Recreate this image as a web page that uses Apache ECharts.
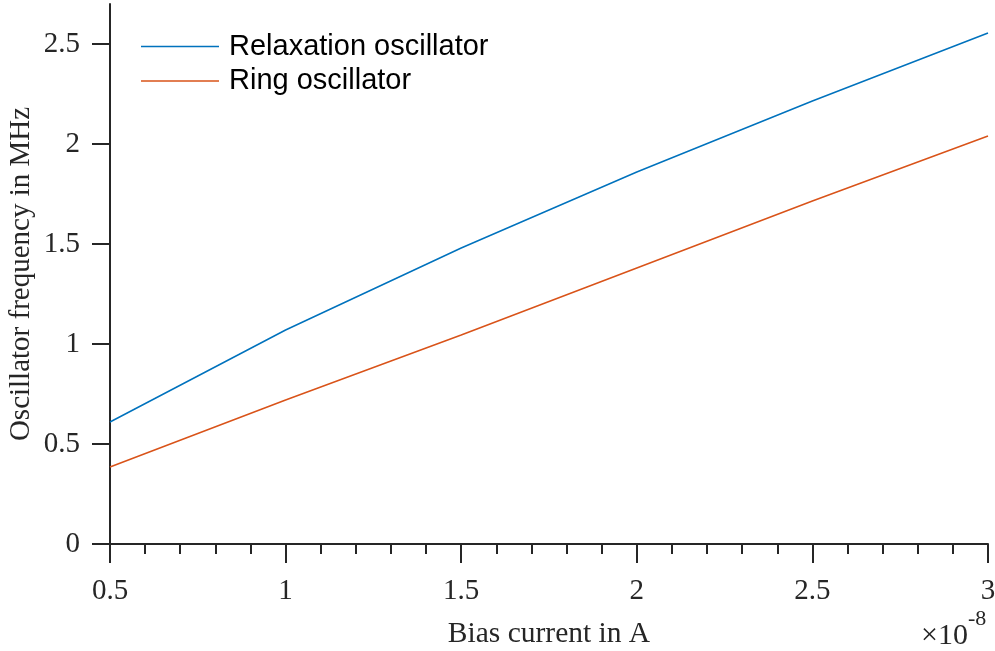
<!DOCTYPE html>
<html>
<head>
<meta charset="utf-8">
<script src="https://cdn.jsdelivr.net/npm/echarts@6/dist/echarts.min.js"></script>
<style>
  html, body { margin: 0; padding: 0; background: #fff; }
  #chart { width: 995px; height: 651px; }
</style>
</head>
<body>
<div id="chart"></div>
<script>
// Bias current (in units of 1e-8 A)
const biasCurrent = [0.5, 1.0, 1.5, 2.0, 2.5, 3.0];
// Oscillator frequency in MHz
const relaxationFreq = [0.61, 1.07, 1.48, 1.86, 2.215, 2.555];
const ringFreq = [0.385, 0.72, 1.045, 1.38, 1.715, 2.04];
const seriesNames = ['Relaxation oscillator', 'Ring oscillator'];
const seriesColors = ['#0072BD', '#D95319'];
const xTicks = [0.5, 1, 1.5, 2, 2.5, 3];
const yTicks = [0, 0.5, 1, 1.5, 2, 2.5];

const axisColor = '#262626';
const serif = '"Liberation Serif", "Times New Roman", serif';
const sans = '"Liberation Sans", Arial, Helvetica, sans-serif';

const pairs = (xs, ys) => xs.map((x, i) => [x, ys[i]]);

const chart = echarts.init(document.getElementById('chart'), null, { renderer: 'canvas' });

chart.setOption({
  animation: false,
  backgroundColor: '#ffffff',
  grid: { left: 110, right: 7, top: 4, bottom: 107, containLabel: false, outerBoundsMode: 'none' },
  legend: {
    left: 141,
    top: 32,
    padding: 0,
    orient: 'vertical',
    icon: 'rect',
    itemWidth: 78,
    itemHeight: 1.5,
    itemGap: 5.5,
    data: seriesNames,
    textStyle: { fontFamily: sans, fontSize: 29, lineHeight: 29, color: '#000', padding: [0, 0, 0, 5] }
  },
  xAxis: {
    type: 'value',
    min: 0.5,
    max: 3,
    interval: 0.5,
    name: 'Bias current in A',
    nameLocation: 'middle',
    nameGap: 75,
    nameMoveOverlap: false,
    nameTextStyle: { fontFamily: serif, fontSize: 29.5, color: axisColor },
    axisLine: { show: true, onZero: false, lineStyle: { color: axisColor, width: 2 } },
    axisTick: { show: true, inside: false, length: 19, lineStyle: { color: axisColor, width: 2 }, customValues: xTicks },
    minorTick: { show: true, splitNumber: 5, length: 10, lineStyle: { color: axisColor, width: 2 } },
    splitLine: { show: false },
    axisLabel: {
      fontFamily: serif, fontSize: 29, color: axisColor, margin: 33,
      customValues: xTicks,
      formatter: v => String(v)
    }
  },
  yAxis: {
    type: 'value',
    min: 0,
    max: 2.7,
    interval: 0.5,
    name: 'Oscillator frequency in MHz',
    nameLocation: 'middle',
    nameGap: 74,
    nameMoveOverlap: false,
    nameTextStyle: { fontFamily: serif, fontSize: 29, color: axisColor },
    axisLine: { show: true, lineStyle: { color: axisColor, width: 2 } },
    axisTick: { show: true, inside: false, length: 18, lineStyle: { color: axisColor, width: 2 }, customValues: yTicks },
    splitLine: { show: false },
    axisLabel: {
      fontFamily: serif, fontSize: 29, color: axisColor, margin: 30,
      customValues: yTicks,
      formatter: v => String(v)
    }
  },
  // axis scale multiplier under the right end of the x axis
  graphic: [
    {
      type: 'text',
      style: {
        x: 968, y: 651, text: '×10', textAlign: 'right', textVerticalAlign: 'bottom',
        font: '30px ' + serif, fill: axisColor
      }
    },
    {
      type: 'text',
      style: {
        x: 968, y: 630, text: '-8', textAlign: 'left', textVerticalAlign: 'bottom',
        font: '22px ' + serif, fill: axisColor
      }
    }
  ],
  series: [
    {
      name: seriesNames[0],
      type: 'line',
      data: pairs(biasCurrent, relaxationFreq),
      symbol: 'none',
      color: seriesColors[0],
      lineStyle: { color: seriesColors[0], width: 1.5 }
    },
    {
      name: seriesNames[1],
      type: 'line',
      data: pairs(biasCurrent, ringFreq),
      symbol: 'none',
      color: seriesColors[1],
      lineStyle: { color: seriesColors[1], width: 1.5 }
    }
  ]
});
</script>
</body>
</html>
